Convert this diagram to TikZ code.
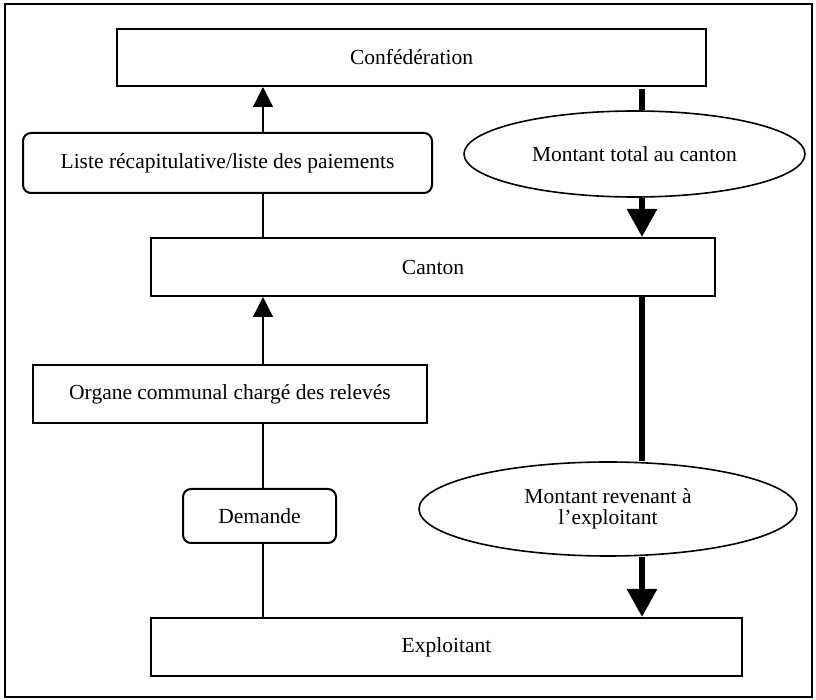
\documentclass[tikz,border=0pt]{standalone}
\usepackage{fontspec}
\setmainfont{Liberation Serif}
\usetikzlibrary{shapes.geometric, arrows.meta, positioning, calc}
\tikzset{block/.style={rectangle,draw,line width=1pt,align=center,inner sep=2pt},
         roundblock/.style={block,rounded corners=4pt},
         oval/.style={ellipse,draw,line width=0.8pt,align=center,inner sep=0pt},
         frameline/.style={draw,line width=0.9pt},
         arrow/.style={-{Triangle[length=10pt,width=10pt]},line width=0.65pt},
         plainline/.style={line width=0.65pt},
         bigline/.style={line width=3pt},
         bigarrow/.style={-{Triangle[length=14pt,width=14.5pt]},line width=3pt}}

\begin{document}
\begin{tikzpicture}[x=0.5pt,y=-0.5pt,font=\fontsize{10.75}{10.5}\selectfont]
    \useasboundingbox (0,0) rectangle (816,700);
    % Frame
    \draw[frameline] (5,4) rectangle (812,697);
    % Boxes
    \node (conf) at (411.5,57.5) [block,minimum width=294.5pt,minimum height=28.5pt]{Confédération};
    \node (liste) at (227.5,163) [roundblock,minimum width=204.5pt,minimum height=30pt]{Liste récapitulative/liste des paiements};
    \node (total) at (634.5,154) [oval,minimum width=170.5pt,minimum height=43pt]{Montant total au canton};
    \node (canton) at (433,267) [block,minimum width=282pt,minimum height=29pt]{Canton};
    \node (organe) at (230,394) [block,minimum width=197pt,minimum height=29pt]{Organe communal chargé des relevés};
    \node (demande) at (259.5,516) [roundblock,minimum width=76.5pt,minimum height=27pt]{Demande};
    \node (revenu) at (608,509) [oval,minimum width=189pt,minimum height=47pt]{Montant revenant à\\l’exploitant};
    \node (exploit) at (446.5,647) [block,minimum width=295.5pt,minimum height=29pt]{Exploitant};
    % Columns of the connectors
    \coordinate (lx) at (263,0);
    \coordinate (rx) at (642,0);
    % Upward flow (thin)
    \draw[plainline] (exploit.north -| lx) -- (demande.south -| lx);
    \draw[plainline] (demande.north -| lx) -- (organe.south -| lx);
    \draw[arrow] (organe.north -| lx) -- (canton.south -| lx);
    \draw[plainline] (canton.north -| lx) -- (liste.south -| lx);
    \draw[arrow] (liste.north -| lx) -- (conf.south -| lx);
    % Downward flow (thick)
    \draw[bigline] ([yshift=-1pt]conf.south -| rx) -- (total.north -| rx);
    \draw[bigarrow] (total.south -| rx) -- (canton.north -| rx);
    \draw[bigline] (canton.south -| rx) -- (revenu.north -| rx);
    \draw[bigarrow] (revenu.south -| rx) -- (exploit.north -| rx);
\end{tikzpicture}
\end{document}
